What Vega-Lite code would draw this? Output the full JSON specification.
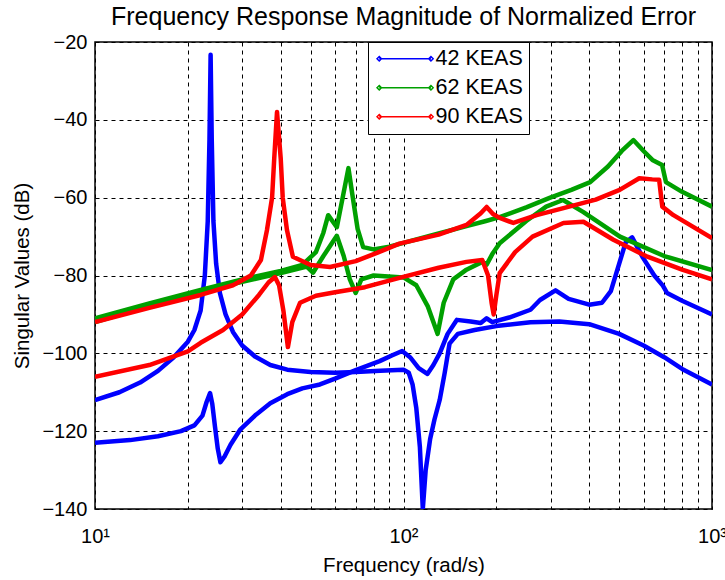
{
  "$schema": "https://vega.github.io/schema/vega-lite/v6.json",
  "width": 617,
  "height": 467,
  "autosize": {"type": "none"},
  "padding": {"left": 95, "top": 42, "right": 13, "bottom": 71},
  "background": "white",
  "title": {"text": "Frequency Response Magnitude of Normalized Error", "font": "Liberation Sans", "fontSize": 25, "fontWeight": "normal", "color": "black", "anchor": "middle", "offset": 2},
  "config": {
    "view": {"stroke": "black", "strokeWidth": 1.5},
    "axis": {"labelFont": "Liberation Sans", "titleFont": "Liberation Sans", "labelFontSize": 20, "titleFontSize": 20.5, "titleFontWeight": "normal", "labelColor": "black", "titleColor": "black", "domain": false, "ticks": false, "grid": true, "gridColor": "black", "gridDash": [4, 4], "gridWidth": 1, "gridOpacity": 1}
  },
  "data": {"values": [
    {"s":"42 KEAS","b":"a","f":10,"db":-112},{"s":"42 KEAS","b":"a","f":12,"db":-110},{"s":"42 KEAS","b":"a","f":14,"db":-107.5},{"s":"42 KEAS","b":"a","f":16,"db":-104.5},{"s":"42 KEAS","b":"a","f":18,"db":-101},{"s":"42 KEAS","b":"a","f":20,"db":-97},{"s":"42 KEAS","b":"a","f":21,"db":-94},{"s":"42 KEAS","b":"a","f":22,"db":-89},{"s":"42 KEAS","b":"a","f":22.7,"db":-80},{"s":"42 KEAS","b":"a","f":23.2,"db":-66},{"s":"42 KEAS","b":"a","f":23.5,"db":-45},{"s":"42 KEAS","b":"a","f":23.7,"db":-23.3},{"s":"42 KEAS","b":"a","f":23.9,"db":-45},{"s":"42 KEAS","b":"a","f":24.2,"db":-66},{"s":"42 KEAS","b":"a","f":24.7,"db":-77},{"s":"42 KEAS","b":"a","f":25.4,"db":-84.5},{"s":"42 KEAS","b":"a","f":26.5,"db":-90},{"s":"42 KEAS","b":"a","f":28,"db":-94.5},{"s":"42 KEAS","b":"a","f":30,"db":-98},{"s":"42 KEAS","b":"a","f":33,"db":-100.8},{"s":"42 KEAS","b":"a","f":37,"db":-103},{"s":"42 KEAS","b":"a","f":42,"db":-104.2},{"s":"42 KEAS","b":"a","f":50,"db":-104.8},{"s":"42 KEAS","b":"a","f":60,"db":-105},{"s":"42 KEAS","b":"a","f":70,"db":-104.8},{"s":"42 KEAS","b":"a","f":84,"db":-104.5},{"s":"42 KEAS","b":"a","f":100,"db":-104.2},{"s":"42 KEAS","b":"a","f":104,"db":-105},{"s":"42 KEAS","b":"a","f":107,"db":-108},{"s":"42 KEAS","b":"a","f":110,"db":-114},{"s":"42 KEAS","b":"a","f":113,"db":-124},{"s":"42 KEAS","b":"a","f":115.5,"db":-140},{"s":"42 KEAS","b":"a","f":118,"db":-130},{"s":"42 KEAS","b":"a","f":122,"db":-122},{"s":"42 KEAS","b":"a","f":126,"db":-117},{"s":"42 KEAS","b":"a","f":131,"db":-112},{"s":"42 KEAS","b":"a","f":136,"db":-105},{"s":"42 KEAS","b":"a","f":141,"db":-97.5},{"s":"42 KEAS","b":"a","f":150,"db":-95},{"s":"42 KEAS","b":"a","f":170,"db":-94},{"s":"42 KEAS","b":"a","f":200,"db":-93},{"s":"42 KEAS","b":"a","f":258,"db":-92},{"s":"42 KEAS","b":"a","f":320,"db":-91.8},{"s":"42 KEAS","b":"a","f":400,"db":-92.5},{"s":"42 KEAS","b":"a","f":500,"db":-95},{"s":"42 KEAS","b":"a","f":600,"db":-98},{"s":"42 KEAS","b":"a","f":700,"db":-101},{"s":"42 KEAS","b":"a","f":800,"db":-104},{"s":"42 KEAS","b":"a","f":1000,"db":-108},
    {"s":"42 KEAS","b":"b","f":10,"db":-123},{"s":"42 KEAS","b":"b","f":13,"db":-122.3},{"s":"42 KEAS","b":"b","f":16,"db":-121.3},{"s":"42 KEAS","b":"b","f":19,"db":-120},{"s":"42 KEAS","b":"b","f":21,"db":-118.5},{"s":"42 KEAS","b":"b","f":22.3,"db":-116},{"s":"42 KEAS","b":"b","f":23,"db":-112.5},{"s":"42 KEAS","b":"b","f":23.6,"db":-110.2},{"s":"42 KEAS","b":"b","f":24,"db":-113},{"s":"42 KEAS","b":"b","f":24.5,"db":-119},{"s":"42 KEAS","b":"b","f":25,"db":-124.5},{"s":"42 KEAS","b":"b","f":25.5,"db":-128},{"s":"42 KEAS","b":"b","f":26.3,"db":-126.5},{"s":"42 KEAS","b":"b","f":27.5,"db":-123.5},{"s":"42 KEAS","b":"b","f":29.5,"db":-119.7},{"s":"42 KEAS","b":"b","f":33,"db":-116},{"s":"42 KEAS","b":"b","f":37,"db":-112.8},{"s":"42 KEAS","b":"b","f":42,"db":-110.5},{"s":"42 KEAS","b":"b","f":47,"db":-109},{"s":"42 KEAS","b":"b","f":53.6,"db":-108},{"s":"42 KEAS","b":"b","f":60,"db":-106.5},{"s":"42 KEAS","b":"b","f":70,"db":-104.3},{"s":"42 KEAS","b":"b","f":83.7,"db":-102},{"s":"42 KEAS","b":"b","f":92,"db":-100.5},{"s":"42 KEAS","b":"b","f":99,"db":-99.4},{"s":"42 KEAS","b":"b","f":105,"db":-101},{"s":"42 KEAS","b":"b","f":112,"db":-103.8},{"s":"42 KEAS","b":"b","f":119.5,"db":-105.3},{"s":"42 KEAS","b":"b","f":125,"db":-103},{"s":"42 KEAS","b":"b","f":131,"db":-100},{"s":"42 KEAS","b":"b","f":139,"db":-95},{"s":"42 KEAS","b":"b","f":149,"db":-91.4},{"s":"42 KEAS","b":"b","f":165,"db":-91.8},{"s":"42 KEAS","b":"b","f":178,"db":-92.2},{"s":"42 KEAS","b":"b","f":186,"db":-91},{"s":"42 KEAS","b":"b","f":194,"db":-92},{"s":"42 KEAS","b":"b","f":220,"db":-90.8},{"s":"42 KEAS","b":"b","f":258,"db":-88.8},{"s":"42 KEAS","b":"b","f":277,"db":-86.3},{"s":"42 KEAS","b":"b","f":311,"db":-83.8},{"s":"42 KEAS","b":"b","f":343,"db":-86},{"s":"42 KEAS","b":"b","f":400,"db":-87.5},{"s":"42 KEAS","b":"b","f":440,"db":-87},{"s":"42 KEAS","b":"b","f":470,"db":-84},{"s":"42 KEAS","b":"b","f":500,"db":-77},{"s":"42 KEAS","b":"b","f":525,"db":-71.5},{"s":"42 KEAS","b":"b","f":551,"db":-70.2},{"s":"42 KEAS","b":"b","f":597,"db":-75.4},{"s":"42 KEAS","b":"b","f":650,"db":-80},{"s":"42 KEAS","b":"b","f":693,"db":-82.6},{"s":"42 KEAS","b":"b","f":715,"db":-84.5},{"s":"42 KEAS","b":"b","f":800,"db":-86.5},{"s":"42 KEAS","b":"b","f":1000,"db":-90},
    {"s":"62 KEAS","b":"a","f":10,"db":-91},{"s":"62 KEAS","b":"a","f":15,"db":-87.2},{"s":"62 KEAS","b":"a","f":22,"db":-83.7},{"s":"62 KEAS","b":"a","f":30,"db":-81},{"s":"62 KEAS","b":"a","f":40,"db":-78.8},{"s":"62 KEAS","b":"a","f":47,"db":-77.3},{"s":"62 KEAS","b":"a","f":52,"db":-74},{"s":"62 KEAS","b":"a","f":55,"db":-69},{"s":"62 KEAS","b":"a","f":57,"db":-64.5},{"s":"62 KEAS","b":"a","f":60.8,"db":-67.6},{"s":"62 KEAS","b":"a","f":63.5,"db":-60},{"s":"62 KEAS","b":"a","f":66.3,"db":-52.4},{"s":"62 KEAS","b":"a","f":68.5,"db":-60},{"s":"62 KEAS","b":"a","f":71,"db":-68},{"s":"62 KEAS","b":"a","f":74,"db":-72.7},{"s":"62 KEAS","b":"a","f":80,"db":-73.3},{"s":"62 KEAS","b":"a","f":90,"db":-72.6},{"s":"62 KEAS","b":"a","f":100,"db":-71.6},{"s":"62 KEAS","b":"a","f":130,"db":-69.2},{"s":"62 KEAS","b":"a","f":160,"db":-67.3},{"s":"62 KEAS","b":"a","f":185,"db":-66},{"s":"62 KEAS","b":"a","f":205,"db":-65},{"s":"62 KEAS","b":"a","f":250,"db":-62.5},{"s":"62 KEAS","b":"a","f":299,"db":-60},{"s":"62 KEAS","b":"a","f":350,"db":-58},{"s":"62 KEAS","b":"a","f":403,"db":-56},{"s":"62 KEAS","b":"a","f":460,"db":-52},{"s":"62 KEAS","b":"a","f":510,"db":-48},{"s":"62 KEAS","b":"a","f":556,"db":-45.2},{"s":"62 KEAS","b":"a","f":600,"db":-48},{"s":"62 KEAS","b":"a","f":641,"db":-50.3},{"s":"62 KEAS","b":"a","f":689,"db":-51.6},{"s":"62 KEAS","b":"a","f":709,"db":-56},{"s":"62 KEAS","b":"a","f":800,"db":-58.5},{"s":"62 KEAS","b":"a","f":1000,"db":-62.3},
    {"s":"62 KEAS","b":"b","f":10,"db":-92},{"s":"62 KEAS","b":"b","f":15,"db":-87.8},{"s":"62 KEAS","b":"b","f":22,"db":-84.2},{"s":"62 KEAS","b":"b","f":30,"db":-81.6},{"s":"62 KEAS","b":"b","f":40,"db":-79.4},{"s":"62 KEAS","b":"b","f":48.6,"db":-77.7},{"s":"62 KEAS","b":"b","f":50.9,"db":-79.3},{"s":"62 KEAS","b":"b","f":55,"db":-75},{"s":"62 KEAS","b":"b","f":60.8,"db":-69.8},{"s":"62 KEAS","b":"b","f":64,"db":-75},{"s":"62 KEAS","b":"b","f":67,"db":-81},{"s":"62 KEAS","b":"b","f":70,"db":-84.5},{"s":"62 KEAS","b":"b","f":73,"db":-81},{"s":"62 KEAS","b":"b","f":80,"db":-80},{"s":"62 KEAS","b":"b","f":100,"db":-80.5},{"s":"62 KEAS","b":"b","f":110,"db":-82.5},{"s":"62 KEAS","b":"b","f":120,"db":-88},{"s":"62 KEAS","b":"b","f":129,"db":-95},{"s":"62 KEAS","b":"b","f":135,"db":-87},{"s":"62 KEAS","b":"b","f":145,"db":-81},{"s":"62 KEAS","b":"b","f":160,"db":-78.5},{"s":"62 KEAS","b":"b","f":180,"db":-76.5},{"s":"62 KEAS","b":"b","f":186,"db":-77.2},{"s":"62 KEAS","b":"b","f":194,"db":-74.5},{"s":"62 KEAS","b":"b","f":205,"db":-71.7},{"s":"62 KEAS","b":"b","f":250,"db":-66},{"s":"62 KEAS","b":"b","f":290,"db":-62.3},{"s":"62 KEAS","b":"b","f":329,"db":-60.6},{"s":"62 KEAS","b":"b","f":383,"db":-63.7},{"s":"62 KEAS","b":"b","f":503,"db":-70},{"s":"62 KEAS","b":"b","f":700,"db":-75},{"s":"62 KEAS","b":"b","f":1000,"db":-78.6},
    {"s":"90 KEAS","b":"a","f":10,"db":-92},{"s":"90 KEAS","b":"a","f":15,"db":-88.3},{"s":"90 KEAS","b":"a","f":22,"db":-85},{"s":"90 KEAS","b":"a","f":28,"db":-82.5},{"s":"90 KEAS","b":"a","f":32,"db":-80},{"s":"90 KEAS","b":"a","f":34.5,"db":-76},{"s":"90 KEAS","b":"a","f":36.1,"db":-68.3},{"s":"90 KEAS","b":"a","f":37.5,"db":-60},{"s":"90 KEAS","b":"a","f":38.1,"db":-50},{"s":"90 KEAS","b":"a","f":38.9,"db":-38},{"s":"90 KEAS","b":"a","f":40,"db":-50},{"s":"90 KEAS","b":"a","f":40.6,"db":-60},{"s":"90 KEAS","b":"a","f":41.9,"db":-68.3},{"s":"90 KEAS","b":"a","f":43.8,"db":-75.2},{"s":"90 KEAS","b":"a","f":50,"db":-77.3},{"s":"90 KEAS","b":"a","f":57.8,"db":-77.8},{"s":"90 KEAS","b":"a","f":70,"db":-76.3},{"s":"90 KEAS","b":"a","f":82,"db":-74.2},{"s":"90 KEAS","b":"a","f":97,"db":-71.8},{"s":"90 KEAS","b":"a","f":130,"db":-69.5},{"s":"90 KEAS","b":"a","f":160,"db":-67},{"s":"90 KEAS","b":"a","f":178,"db":-64},{"s":"90 KEAS","b":"a","f":186,"db":-62.4},{"s":"90 KEAS","b":"a","f":195,"db":-64.2},{"s":"90 KEAS","b":"a","f":205,"db":-65.2},{"s":"90 KEAS","b":"a","f":227,"db":-66.5},{"s":"90 KEAS","b":"a","f":270,"db":-64.5},{"s":"90 KEAS","b":"a","f":330,"db":-62.7},{"s":"90 KEAS","b":"a","f":420,"db":-60.5},{"s":"90 KEAS","b":"a","f":502,"db":-58},{"s":"90 KEAS","b":"a","f":581,"db":-55},{"s":"90 KEAS","b":"a","f":640,"db":-55.3},{"s":"90 KEAS","b":"a","f":674,"db":-55.4},{"s":"90 KEAS","b":"a","f":690,"db":-62.3},{"s":"90 KEAS","b":"a","f":750,"db":-64.5},{"s":"90 KEAS","b":"a","f":1000,"db":-70.4},
    {"s":"90 KEAS","b":"b","f":10,"db":-106},{"s":"90 KEAS","b":"b","f":15,"db":-103},{"s":"90 KEAS","b":"b","f":20,"db":-99.5},{"s":"90 KEAS","b":"b","f":22,"db":-97.3},{"s":"90 KEAS","b":"b","f":26,"db":-94},{"s":"90 KEAS","b":"b","f":30,"db":-90},{"s":"90 KEAS","b":"b","f":34,"db":-85},{"s":"90 KEAS","b":"b","f":36.5,"db":-81.8},{"s":"90 KEAS","b":"b","f":38.3,"db":-80.4},{"s":"90 KEAS","b":"b","f":39.5,"db":-82.5},{"s":"90 KEAS","b":"b","f":40.8,"db":-89},{"s":"90 KEAS","b":"b","f":42.2,"db":-98.4},{"s":"90 KEAS","b":"b","f":43.6,"db":-92},{"s":"90 KEAS","b":"b","f":46.2,"db":-87},{"s":"90 KEAS","b":"b","f":52,"db":-85.2},{"s":"90 KEAS","b":"b","f":60,"db":-84.3},{"s":"90 KEAS","b":"b","f":75,"db":-83},{"s":"90 KEAS","b":"b","f":97,"db":-80.6},{"s":"90 KEAS","b":"b","f":130,"db":-78},{"s":"90 KEAS","b":"b","f":160,"db":-76.5},{"s":"90 KEAS","b":"b","f":180,"db":-76},{"s":"90 KEAS","b":"b","f":188,"db":-80},{"s":"90 KEAS","b":"b","f":193,"db":-87},{"s":"90 KEAS","b":"b","f":196,"db":-90},{"s":"90 KEAS","b":"b","f":200,"db":-85},{"s":"90 KEAS","b":"b","f":205,"db":-79.4},{"s":"90 KEAS","b":"b","f":230,"db":-74},{"s":"90 KEAS","b":"b","f":262,"db":-70},{"s":"90 KEAS","b":"b","f":330,"db":-66.5},{"s":"90 KEAS","b":"b","f":383,"db":-66.2},{"s":"90 KEAS","b":"b","f":479,"db":-70.8},{"s":"90 KEAS","b":"b","f":611,"db":-75},{"s":"90 KEAS","b":"b","f":800,"db":-78.5},{"s":"90 KEAS","b":"b","f":1000,"db":-81}
  ]},
  "mark": {"type": "line", "strokeWidth": 4.5, "clip": true, "strokeJoin": "round"},
  "encoding": {
    "x": {"field": "f", "type": "quantitative", "scale": {"type": "log", "domain": [10, 1000]}, "axis": {"title": "Frequency (rad/s)", "values": [10,20,30,40,50,60,70,80,90,100,200,300,400,500,600,700,800,900,1000], "labelExpr": "datum.value == 10 ? '10¹' : datum.value == 100 ? '10²' : datum.value == 1000 ? '10³' : ''", "labelOverlap": false, "labelFlush": false, "labelPadding": 17, "titlePadding": 9}},
    "y": {"field": "db", "type": "quantitative", "scale": {"domain": [-140, -20], "nice": false, "zero": false}, "axis": {"title": "Singular Values (dB)", "values": [-140,-120,-100,-80,-60,-40,-20], "labelPadding": 8, "titlePadding": 9}},
    "color": {"field": "s", "type": "nominal", "scale": {"domain": ["42 KEAS","62 KEAS","90 KEAS"], "range": ["#0000ff","#00a000","#ff0000"]}, "legend": {"title": null, "orient": "none", "legendX": 273, "legendY": 0, "labelFont": "Liberation Sans", "labelFontSize": 21.5, "labelColor": "black", "symbolType": "M-1,0H8.4M-1,-0.4L-0.6,0L-1,0.4L-1.4,0ZM8.4,-0.4L8.8,0L8.4,0.4L8,0Z", "symbolSize": 121, "symbolStrokeWidth": 1.5, "labelOffset": 40, "rowPadding": 6, "padding": 6, "strokeColor": "black", "fillColor": "white", "cornerRadius": 0}},
    "detail": {"field": "b", "type": "nominal"}
  }
}
